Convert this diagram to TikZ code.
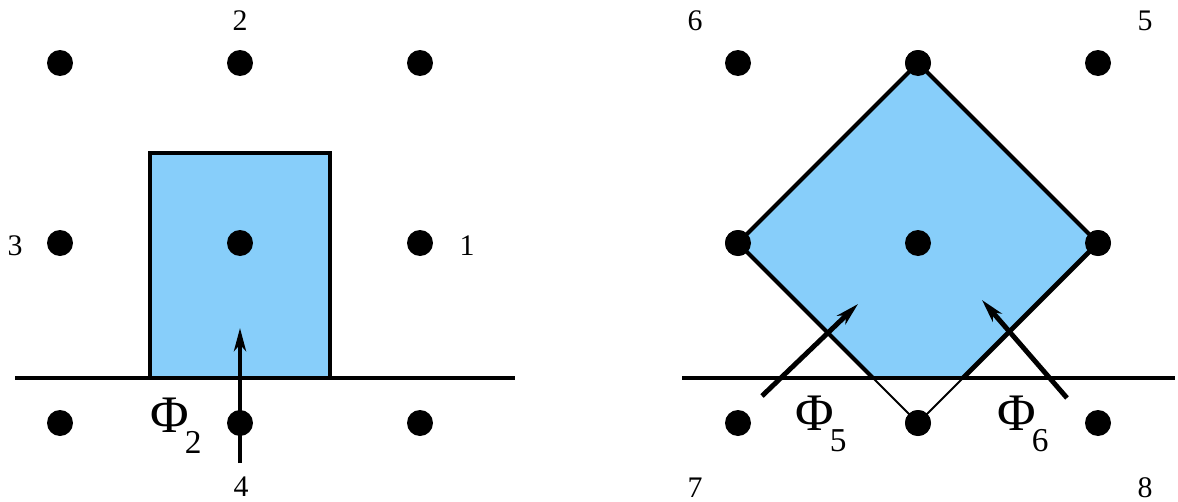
\documentclass[tikz,border=0pt]{standalone}
\usepackage{fontspec}
\setmainfont{Liberation Serif}
\usetikzlibrary{arrows.meta}
\definecolor{skyfill}{RGB}{135,206,250}
\tikzset{
  dot/.style={circle,fill=black,inner sep=0pt,minimum size=0.52cm},
  lab/.style={inner sep=0pt,anchor=base,font=\fontsize{17}{20}\selectfont},
  philab/.style={inner sep=0pt,anchor=base west,font=\fontsize{30}{32}\selectfont},
  thick line/.style={line width=2.3pt},
  thin line/.style={line width=1.1pt},
  flux/.style={line width=2.8pt,-{Stealth[length=0.46cm,width=0.24cm,inset=0.13cm]}},
}
\newcommand{\phisub}[1]{Φ\kern-0.08cm\raisebox{-0.42cm}{\fontsize{19}{22}\selectfont #1}}
\begin{document}
\begin{tikzpicture}[x=0.02cm,y=-0.02cm]
\useasboundingbox (0,0) rectangle (1178,501);
% left panel
\node[dot] (a1) at (60,63) {};
\node[dot] (a2) at (240,63) {};
\node[dot] (a3) at (420,63) {};
\node[dot] (a4) at (60,243) {};
\node[dot] (a6) at (420,243) {};
\node[dot] (a7) at (60,423) {};
\node[dot] (a9) at (420,423) {};
\draw[thick line,fill=skyfill] (150,378) rectangle (330,153);
\node[dot] (a5) at (240,243) {};
\node[dot] (a8) at (240,423) {};
\coordinate (lL) at (15,378);
\coordinate (lR) at (515,378);
\draw[thick line] (lL) -- (lR);
\coordinate (f2s) at (240,463);
\coordinate (f2e) at (240,328);
\draw[flux] (f2s) -- (f2e);
\node[lab] (n2) at (240,30) {2};
\node[lab] (n3) at (15,255) {3};
\node[lab] (n1) at (467,255) {1};
\node[lab] (n4) at (241,496) {4};
\node[philab] (p2) at (150,432) {\phisub{2}};
% right panel
\node[dot] (b1) at (738,63) {};
\node[dot] (b2) at (918,63) {};
\node[dot] (b3) at (1098,63) {};
\node[dot] (b4) at (738,243) {};
\node[dot] (b5) at (918,243) {};
\node[dot] (b6) at (1098,243) {};
\node[dot] (b7) at (738,423) {};
\node[dot] (b8) at (918,423) {};
\node[dot] (b9) at (1098,423) {};
\coordinate (cl) at (873,378);
\coordinate (cr) at (963,378);
\fill[skyfill] (b2.center) -- (b6.center) -- (cr) -- (cl) -- (b4.center) -- cycle;
\draw[thick line,line join=round] (cl) -- (b4.center) -- (b2.center) -- (b6.center);
\draw[line width=2.8pt] (b6.center) -- (cr);
\draw[thin line] (cl) -- (b8.center) -- (cr);
\node[dot] at (b2) {};
\node[dot] at (b4) {};
\node[dot] at (b5) {};
\node[dot] at (b6) {};
\node[dot] at (b8) {};
\coordinate (rL) at (682,378);
\coordinate (rR) at (1175,378);
\draw[thick line] (rL) -- (rR);
\coordinate (f5s) at (762,396);
\coordinate (f5e) at (858,304);
\draw[flux] (f5s) -- (f5e);
\coordinate (f6s) at (1067,398);
\coordinate (f6e) at (982,300);
\draw[flux] (f6s) -- (f6e);
\node[lab] (n6) at (695,30) {6};
\node[lab] (n5) at (1145,30) {5};
\node[lab] (n7) at (695,497) {7};
\node[lab] (n8) at (1145,497) {8};
\node[philab] (p5) at (795,430) {\phisub{5}};
\node[philab] (p6) at (997,430) {\phisub{6}};
\end{tikzpicture}
\end{document}
